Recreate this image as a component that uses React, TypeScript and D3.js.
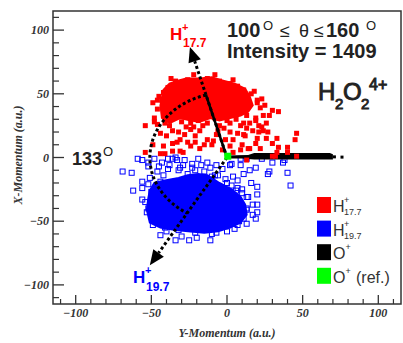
import React from 'react';
import * as d3 from 'd3';

// ---- axes ----
const AXIS_DOMAIN: [number, number] = [-115, 115];
const MAJOR_TICKS = [-100, -50, 0, 50, 100];
const MINOR_TICKS = [-110, -90, -80, -70, -60, -40, -30, -20, -10, 10, 20, 30, 40, 60, 70, 80, 90, 110];
const TICK_LABELS = ['\u2212100', '\u221250', '0', '50', '100'];

// ---- data: [Y-Momentum, X-Momentum] (a.u.) ----
// dense core outline of H+ (17.7) distribution
const redCore: [number, number][] = [
  [-42, 53], [-38, 58], [-33, 60], [-27, 62], [-18, 62], [-10, 63], [-5, 61], [5, 58], [12, 54],
  [15, 48], [17, 41], [14, 36], [9, 33], [2, 31], [-5, 29], [-11, 31], [-18, 28], [-24, 29],
  [-31, 31], [-38, 27], [-43, 31], [-44, 41],
];
const redPoints: [number, number][] = [
  [-49, 43], [-48, 31], [-54, 25], [-46, 26], [-44, 19], [-40, 17], [-36, 21], [-49, 10], [-42, 9],
  [-36, 11], [-31, 14], [-28, 18], [-24, 22], [-21, 17], [-18, 21], [-13, 14], [-10, 10], [-18, 7],
  [-24, 9], [-31, 5], [-36, 5], [-7, 18], [-5, 25], [-13, 27], [-19, 29], [-24, 27], [-1, 14], [2, 9],
  [4, 14], [7, 19], [9, 25], [11, 18], [13, 23], [15, 27], [17, 21], [20, 15], [24, 21], [26, 27],
  [28, 33], [30, 37], [34, 36], [24, 33], [22, 39], [19, 31], [26, 15], [30, 11], [33, 15], [22, 7],
  [15, 7], [9, 6], [4, 4], [33, 4], [40, 4], [46, 19], [45, 14], [46, 1], [30, 1],
  [-34, 60], [-26, 61], [-13, 62], [-5, 60], [1, 58], [7, 56], [11, 53], [-42, 51], [-39, 55],
  [-46, 38], [-48, 28], [-38, 25], [-41, 27], [-33, 12], [-29, 4], [-44, 3], [-41, 3], [-54, 4],
  [-15, 10], [-26, 12], [-9, 13], [-6, 21], [-22, 24], [-30, 28], [23, 24], [21, 20], [27, 20],
  [19, 11], [12, 17], [10, 10], [14, 7], [21, 25], [19, 29], [11, 27], [2, 20], [2, 27], [23, 46],
  [20, 43], [25, 41], [18, 52], [20, 45], [-45, 48], [-43, 45], [-40, 36], [-35, 33], [-28, 32],
  [-20, 31], [-14, 33], [-8, 31], [0, 29], [6, 30], [13, 33], [-16, 25], [-2, 23], [-27, 24],
  [13, -2], [32, 1], [34, 8], [40, 8], [-32, 20], [-3, 6], [-21, 12], [-22, 65], [-8, 65],
  [4, 61], [-37, 62], [16, 50], [-46, 45],
];
// dense core outline of H+ (19.7) distribution
const blueCore: [number, number][] = [
  [-51, -26], [-48, -20], [-41, -18], [-32, -16], [-26, -14], [-19, -13], [-13, -14], [-9, -17],
  [-5, -20], [3, -25], [9, -31], [12, -37], [13, -45], [9, -51], [2, -55], [-6, -58], [-15, -59],
  [-24, -58], [-34, -57], [-44, -55], [-51, -51], [-53, -41], [-52, -32],
];
const bluePoints: [number, number][] = [
  [-69, -11], [-63, -12], [-62, -26], [-59, -1], [-56, -19], [-52, -21], [-56, -33], [-54, -35],
  [-53, -43], [-49, -53], [-41, -55], [-32, -57], [-21, -59], [-10, -60], [0, -58], [4, -52],
  [11, -48], [17, -45], [20, -43], [20, -37], [17, -37], [20, -29], [20, -23], [10, -25], [7, -18],
  [11, -13], [15, -10], [27, -13], [40, -12], [42, -22], [28, -11], [13, -1], [23, -1], [38, -2],
  [9, -1], [3, -5], [-3, -9], [-8, -14], [-13, -4], [-19, -1], [-23, -5], [-28, -2], [-34, 0],
  [-39, -1], [-43, -4], [-48, -1], [-52, -7], [-46, -11], [-39, -9], [-32, -10], [-26, -13],
  [-21, -10], [-15, -11], [-18, -19], [-50, -27], [-1, -17], [3, -22], [14, -31], [19, -48],
  [13, -52], [5, -56], [-56, -2], [-52, -4], [-36, -1], [-33, -2], [-38, -6], [-31, -8], [-42, -14],
  [-51, -16], [-23, -8], [-7, -6], [2, -6], [9, -6], [19, -8], [30, -4], [37, -4], [13, -41],
  [7, -24], [10, -28], [7, -53], [-7, -59], [-11, -8], [-10, -15], [4, -15], [13, -31], [-34, -65],
  [-25, -65], [-11, -65], [-44, -61], [-48, -30], [-52, -40], [-47, -50], [-40, -58], [-30, -62],
  [-20, -63], [8, -50], [13, -40], [6, -26], [0, -20], [-6, -14], [-44, -19], [-29, -6], [-17, -6],
  [-45, -7], [16, -20], [-56, -24],
];
// O+ band outline and isolated points
const oBand: [number, number][] = [
  [0, 1.5], [14, 2], [18, 3.6], [68, 3.6], [70, 2.5], [70, -1.6], [18, -1.6], [10, -0.8], [0, -0.8],
];
const oPoints: [number, number][] = [[71, 0.5], [76, 0.3]];
const oRef: [number, number] = [0.5, 1];
// arrow tips and angle arc
const tipH177: [number, number] = [-24.5, 86.7];
const tipH197: [number, number] = [-51, -84.5];
const ARC_RADIUS = 51;

const SANS = "'Liberation Sans', Arial, sans-serif";
const SERIF = "'Liberation Serif', 'Times New Roman', serif";

export default function App() {
  const x = d3.scaleLinear().domain(AXIS_DOMAIN).range([53, 401]);
  const y = d3.scaleLinear().domain(AXIS_DOMAIN).range([304, 11]);
  const poly = d3
    .line<[number, number]>()
    .x((d) => x(d[0]))
    .y((d) => y(d[1]))
    .curve(d3.curveLinearClosed);
  const line = d3
    .line<[number, number]>()
    .x((d) => x(d[0]))
    .y((d) => y(d[1]));

  const a0 = Math.atan2(tipH177[1], tipH177[0]);
  let a1 = Math.atan2(tipH197[1], tipH197[0]);
  if (a1 < a0) a1 += Math.PI * 2;
  const arcPts: [number, number][] = d3
    .range(0, 61)
    .map((i) => a0 + ((a1 - a0) * i) / 60)
    .map((a) => [ARC_RADIUS * Math.cos(a), ARC_RADIUS * Math.sin(a)]);
  const solidEnd: [number, number] = [ARC_RADIUS * Math.cos(a0), ARC_RADIUS * Math.sin(a0)];

  const ox = x(0), oy = y(0);
  const arrow = (tip: [number, number]) => {
    const tx = x(tip[0]), ty = y(tip[1]);
    const len = Math.hypot(tx - ox, ty - oy);
    const dx = (tx - ox) / len, dy = (ty - oy) / len;
    const bx = tx - dx * 15, by = ty - dy * 15;
    const nx = -dy, ny = dx;
    return {
      line: `M${ox},${oy}L${bx},${by}`,
      head: `M${tx},${ty}L${bx + nx * 6.5},${by + ny * 6.5}L${bx - nx * 6.5},${by - ny * 6.5}Z`,
    };
  };
  const arR = arrow(tipH177);
  const arB = arrow(tipH197);
  const dots = { stroke: '#000', strokeWidth: 3, strokeDasharray: '3 2.5', fill: 'none' };

  const legend = [
    { color: '#ff0000', main: 'H', sup: '+', sub: '17.7' },
    { color: '#0000ff', main: 'H', sup: '+', sub: '19.7' },
    { color: '#000000', main: 'O', sup: '+', sub: '' },
    { color: '#00ff00', main: 'O', sup: '+', sub: '', extra: '(ref.)' },
  ];

  return (
    <svg
      width={403}
      height={343}
      style={{ position: 'absolute', left: 0, top: 0, background: '#fff' }}
    >
      <defs>
        <clipPath id="plotclip">
          <rect x={53} y={11} width={348} height={293} />
        </clipPath>
      </defs>
      <g clipPath="url(#plotclip)">
        {/* H+ 19.7 */}
        <path d={poly(blueCore) || ''} fill="#0000ff" stroke="#0000ff" strokeWidth={2} />
        {bluePoints.map((d, i) => (
          <rect key={'b' + i} x={x(d[0]) - 2.5} y={y(d[1]) - 2.5} width={5} height={5} fill="none" stroke="#0000ff" strokeWidth={1} />
        ))}
        {/* O+ */}
        <path d={poly(oBand) || ''} fill="#000" />
        {oPoints.map((d, i) => (
          <rect key={'o' + i} x={x(d[0]) - 1.5} y={y(d[1]) - 1.5} width={3} height={3} fill="#000" />
        ))}
        {/* H+ 17.7 */}
        <path d={poly(redCore) || ''} fill="#ff0000" stroke="#ff0000" strokeWidth={2} />
        {redPoints.map((d, i) => (
          <rect key={'r' + i} x={x(d[0]) - 2.5} y={y(d[1]) - 2.5} width={5} height={5} fill="#ff0000" />
        ))}
        {/* arrows and angle */}
        <path d={arR.line} {...dots} />
        <path d={arB.line} {...dots} />
        <path d={line(arcPts) || ''} {...dots} />
        <path d={line([[0, 0], solidEnd]) || ''} stroke="#000" strokeWidth={2.5} fill="none" />
        <path d={arR.head} fill="#000" />
        <path d={arB.head} fill="#000" />
        {/* O+ reference */}
        <rect x={x(oRef[0]) - 3.5} y={y(oRef[1]) - 3.5} width={7} height={7} fill="#00ff00" />
      </g>

      {/* frame */}
      <rect x={53} y={11} width={348} height={293} fill="none" stroke="#333" strokeWidth={1.5} />
      {/* ticks */}
      {MAJOR_TICKS.map((t) => (
        <g key={'M' + t}>
          <line x1={53} x2={64} y1={y(t)} y2={y(t)} stroke="#333" strokeWidth={1.3} />
          <line x1={x(t)} x2={x(t)} y1={304} y2={295} stroke="#333" strokeWidth={1.3} />
        </g>
      ))}
      {MINOR_TICKS.map((t) => (
        <g key={'m' + t}>
          <line x1={53} x2={59} y1={y(t)} y2={y(t)} stroke="#333" strokeWidth={1.2} />
          <line x1={x(t)} x2={x(t)} y1={304} y2={299} stroke="#333" strokeWidth={1.2} />
        </g>
      ))}
      {MAJOR_TICKS.map((t, i) => (
        <text key={'yl' + t} x={49} y={y(t)} dy="0.35em" textAnchor="end" fontFamily={SERIF} fontStyle="italic" fontWeight="bold" fontSize={12} fill="#333">
          {TICK_LABELS[i]}
        </text>
      ))}
      {MAJOR_TICKS.map((t, i) => (
        <text key={'xl' + t} x={x(t)} y={317} textAnchor="middle" fontFamily={SERIF} fontStyle="italic" fontWeight="bold" fontSize={12} fill="#333">
          {TICK_LABELS[i]}
        </text>
      ))}
      <text x={227} y={337} textAnchor="middle" fontFamily={SERIF} fontStyle="italic" fontWeight="bold" fontSize={12} fill="#333">
        Y-Momentum (a.u.)
      </text>
      <text transform="translate(22,155) rotate(-90)" textAnchor="middle" fontFamily={SERIF} fontStyle="italic" fontWeight="bold" fontSize={12} fill="#333">
        X-Momentum (a.u.)
      </text>

      {/* annotations */}
      <g fontFamily={SANS} fill="#222">
        <text x={227} y={37} fontSize={20} fontWeight="bold">100</text>
        <text x={263} y={30} fontSize={13}>O</text>
        <text x={280} y={37} fontSize={18}>{'\u2264'}</text>
        <text x={299} y={37} fontSize={18}>{'\u03b8'}</text>
        <text x={314} y={37} fontSize={18}>{'\u2264'}</text>
        <text x={326} y={37} fontSize={20} fontWeight="bold">160</text>
        <text x={366} y={30} fontSize={13}>O</text>
        <text x={227} y={58} fontSize={20} fontWeight="bold">Intensity = 1409</text>

        <g stroke="#222" strokeWidth={0.9}>
          <text x={318} y={100} fontSize={24}>H</text>
          <text x={335} y={109} fontSize={15}>2</text>
          <text x={343} y={100} fontSize={24}>O</text>
          <text x={361} y={109} fontSize={15}>2</text>
          <text x={369} y={90} fontSize={16}>4+</text>
        </g>

        <text x={72} y={165} fontSize={18} fontWeight="bold">133</text>
        <text x={103} y={156} fontSize={13}>O</text>
      </g>
      <g fontFamily={SANS} fontWeight="bold" fill="#ff0000">
        <text x={170} y={40} fontSize={17}>H</text>
        <text x={182} y={31} fontSize={11}>+</text>
        <text x={183} y={47} fontSize={12}>17.7</text>
      </g>
      <g fontFamily={SANS} fontWeight="bold" fill="#0000ff">
        <text x={133} y={283} fontSize={17}>H</text>
        <text x={145} y={274} fontSize={11}>+</text>
        <text x={146} y={291} fontSize={12}>19.7</text>
      </g>

      {/* legend */}
      {legend.map((l, i) => {
        const top = 197 + i * 23.6;
        return (
          <g key={'lg' + i} fontFamily={SANS} fill="#333">
            <rect x={317} y={top} width={14} height={16} fill={l.color} />
            <text x={333} y={top + 15} fontSize={16}>{l.main}</text>
            <text x={l.main === 'H' ? 344 : 345.5} y={top + 6} fontSize={9}>{l.sup}</text>
            {l.sub && <text x={344} y={top + 18} fontSize={9}>{l.sub}</text>}
            {l.extra && <text x={356} y={top + 15} fontSize={16}>{l.extra}</text>}
          </g>
        );
      })}
    </svg>
  );
}
